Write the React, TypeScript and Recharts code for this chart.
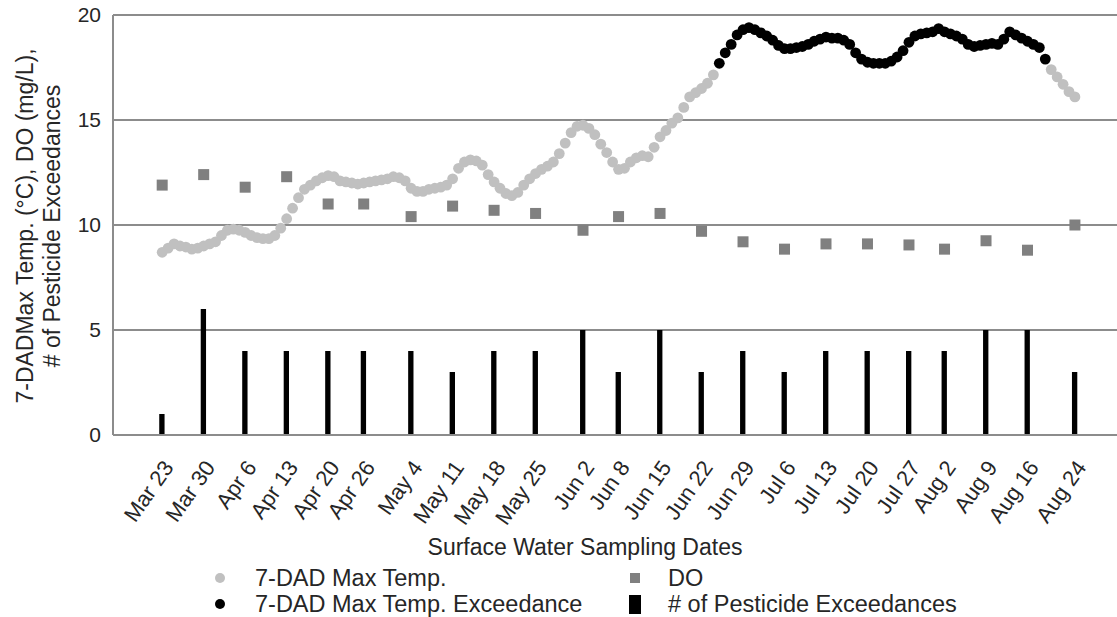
import { ComposedChart, Bar, Scatter, XAxis, YAxis, CartesianGrid, Label } from 'recharts';

// sampling dates, as day offsets from Mar 23
const SAMPLE_LABELS = [
  'Mar 23', 'Mar 30', 'Apr 6', 'Apr 13', 'Apr 20', 'Apr 26', 'May 4', 'May 11',
  'May 18', 'May 25', 'Jun 2', 'Jun 8', 'Jun 15', 'Jun 22', 'Jun 29', 'Jul 6',
  'Jul 13', 'Jul 20', 'Jul 27', 'Aug 2', 'Aug 9', 'Aug 16', 'Aug 24',
];
const SAMPLE_DAYS = [
  0, 7, 14, 21, 28, 34, 42, 49, 56, 63, 71, 77, 84, 91, 98, 105, 112, 119, 126, 132, 139, 146, 154,
];
const DO_VALUES = [
  11.9, 12.4, 11.8, 12.3, 11.0, 11.0, 10.4, 10.9, 10.7, 10.55, 9.75, 10.4,
  10.55, 9.7, 9.2, 8.85, 9.1, 9.1, 9.05, 8.85, 9.25, 8.8, 10.0,
];
const PESTICIDE_COUNTS = [1, 6, 4, 4, 4, 4, 4, 3, 4, 4, 5, 3, 5, 3, 4, 3, 4, 4, 4, 4, 5, 5, 3];

// daily 7-DAD max temperature, Mar 23 .. Aug 24
const TEMP_7DAD = [
  8.7, 8.9, 9.1, 9.0, 8.95, 8.85, 8.9, 9.0, 9.1, 9.2,
  9.5, 9.75, 9.8, 9.75, 9.65, 9.5, 9.4, 9.35, 9.35, 9.5,
  9.85, 10.3, 10.8, 11.3, 11.7, 11.9, 12.1, 12.25, 12.35, 12.3,
  12.1, 12.05, 12.0, 11.95, 12.0, 12.05, 12.1, 12.15, 12.2, 12.3,
  12.25, 12.1, 11.75, 11.6, 11.6, 11.7, 11.75, 11.8, 11.9, 12.2,
  12.7, 13.0, 13.1, 13.05, 12.85, 12.4, 12.05, 11.75, 11.5, 11.4,
  11.55, 11.9, 12.2, 12.45, 12.65, 12.8, 13.0, 13.4, 13.9, 14.4,
  14.7, 14.75, 14.6, 14.3, 13.85, 13.45, 13.0, 12.65, 12.7, 13.0,
  13.2, 13.3, 13.25, 13.7, 14.2, 14.5, 14.85, 15.1, 15.6, 16.1,
  16.3, 16.5, 16.75, 17.15, 17.7, 18.2, 18.6, 19.05, 19.3, 19.4,
  19.3, 19.15, 19.0, 18.8, 18.55, 18.4, 18.4, 18.45, 18.5, 18.6,
  18.75, 18.85, 18.95, 18.9, 18.9, 18.8, 18.6, 18.2, 17.9, 17.75,
  17.7, 17.7, 17.7, 17.8, 18.0, 18.3, 18.7, 19.0, 19.1, 19.15,
  19.2, 19.35, 19.2, 19.1, 19.0, 18.85, 18.6, 18.5, 18.55, 18.6,
  18.65, 18.6, 18.85, 19.2, 19.05, 18.9, 18.75, 18.6, 18.45, 17.9,
  17.4, 17.05, 16.7, 16.35, 16.1,
];
const TEMP_LIMIT = 17.5;

const Y_TICKS = [0, 5, 10, 15, 20];

const FONT = '"Liberation Sans", Arial, sans-serif';
const TEXT = '#262626';
const GRID = '#8c8c8c';
const TEMP_GRAY = '#c0c0c0';
const DO_GRAY = '#808080';

const samples = SAMPLE_DAYS.map((day, i) => ({ day, doVal: DO_VALUES[i], pest: PESTICIDE_COUNTS[i] }));
const tempAll = TEMP_7DAD.map((temp, day) => ({ day, temp }));
const tempNormal = tempAll.filter((p) => p.temp < TEMP_LIMIT);
const tempExceed = tempAll.filter((p) => p.temp >= TEMP_LIMIT);

const labelFor = (day: number) => SAMPLE_LABELS[SAMPLE_DAYS.indexOf(day)] ?? '';

function DateTick({ x, y, payload }: any) {
  return (
    <g transform={`translate(${x + 6},${y + 20}) rotate(-55)`}>
      <text textAnchor="end" dy="0.35em" fontSize={22} fill={TEXT} fontFamily={FONT}>
        {labelFor(payload.value)}
      </text>
    </g>
  );
}

const dot = (fill: string) => (p: any) => <circle cx={p.cx} cy={p.cy} r={5.4} fill={fill} />;
const square = (p: any) => <rect x={p.cx - 5.5} y={p.cy - 5.5} width={11} height={11} fill={DO_GRAY} />;

export default function App() {
  return (
    <div style={{ position: 'absolute', left: 0, top: 0, width: 1117, height: 617, background: '#fff', fontFamily: FONT }}>
      <ComposedChart width={1117} height={617} data={samples} margin={{ top: 15, right: 0, bottom: 62, left: 0 }}>
        <CartesianGrid vertical={false} stroke={GRID} strokeWidth={2} />
        <XAxis
          dataKey="day"
          type="number"
          domain={[-8.3, 161.1]}
          ticks={SAMPLE_DAYS}
          interval={0}
          tick={<DateTick />}
          tickLine={false}
          axisLine={{ stroke: GRID, strokeWidth: 2 }}
          height={120}
        >
          <Label
            content={({ viewBox }: any) => (
              <text
                x={viewBox.x + viewBox.width / 2 - 30}
                y={viewBox.y + viewBox.height}
                textAnchor="middle"
                fontSize={23}
                fill={TEXT}
                fontFamily={FONT}
              >
                Surface Water Sampling Dates
              </text>
            )}
          />
        </XAxis>
        <YAxis
          type="number"
          domain={[0, 20]}
          ticks={Y_TICKS}
          interval={0}
          width={113}
          tickLine={false}
          tickSize={0}
          tickMargin={12}
          axisLine={{ stroke: GRID, strokeWidth: 2 }}
          tick={{ fontSize: 21, fill: TEXT, fontFamily: FONT }}
        >
          <Label
            content={() => (
              <g transform="translate(0,226) rotate(-90)" fontFamily={FONT} fontSize={23} fill={TEXT}>
                <text x={0} y={33} textAnchor="middle">7-DADMax Temp. (°C), DO (mg/L),</text>
                <text x={0} y={60} textAnchor="middle"># of Pesticide Exceedances</text>
              </g>
            )}
          />
        </YAxis>
        <Bar dataKey="pest" fill="#000" barSize={7} isAnimationActive={false} />
        <Scatter dataKey="doVal" shape={square} isAnimationActive={false} />
        <Scatter data={tempNormal} dataKey="temp" shape={dot(TEMP_GRAY)} isAnimationActive={false} />
        <Scatter data={tempExceed} dataKey="temp" shape={dot('#000')} isAnimationActive={false} />
      </ComposedChart>
      <svg width={1117} height={60} style={{ position: 'absolute', left: 0, top: 557 }} fontFamily={FONT} fontSize={23.5} fill={TEXT}>
        <circle cx={220} cy={21} r={5} fill={TEMP_GRAY} />
        <text x={255} y={21} dy="0.35em">7-DAD Max Temp.</text>
        <circle cx={220} cy={47} r={5} fill="#000" />
        <text x={255} y={47} dy="0.35em">7-DAD Max Temp. Exceedance</text>
        <rect x={630} y={16} width={10} height={10} fill={DO_GRAY} />
        <text x={668} y={21} dy="0.35em">DO</text>
        <rect x={629} y={38} width={12} height={19} fill="#000" />
        <text x={668} y={47} dy="0.35em"># of Pesticide Exceedances</text>
      </svg>
    </div>
  );
}
